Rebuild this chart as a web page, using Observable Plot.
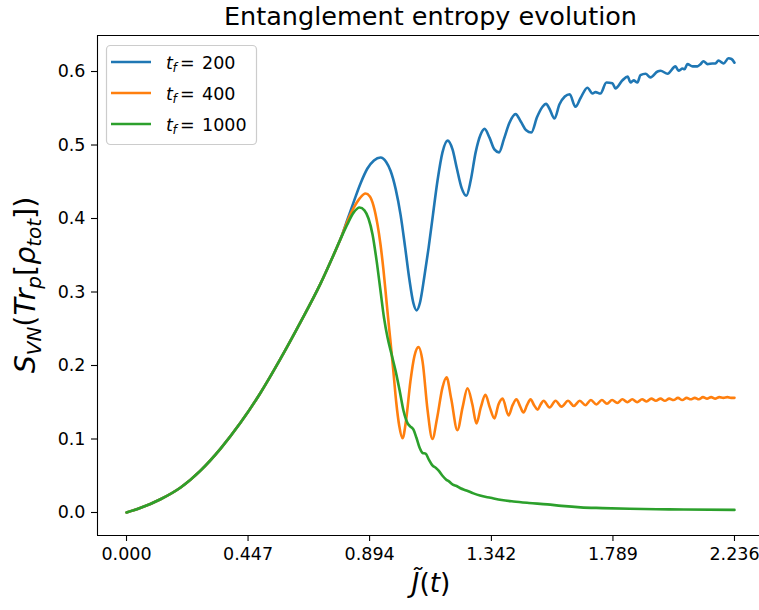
<!DOCTYPE html>
<html><head><meta charset="utf-8">
<script src="https://cdn.jsdelivr.net/npm/d3@7"></script>
<script src="https://cdn.jsdelivr.net/npm/@observablehq/plot@0.6"></script>
<style>body{margin:0;background:#fff;} #chart{position:relative;width:759px;height:610px;overflow:hidden}</style>
</head><body><div id="chart"></div>
<script>
const seriesLabels = ["200", "400", "1000"];
const seriesColors = ["#1f77b4", "#ff7f0e", "#2ca02c"];
const xTicks = [0, 0.447, 0.894, 1.342, 1.789, 2.236];
const yTicks = [0, 0.1, 0.2, 0.3, 0.4, 0.5, 0.6];

// shared rise (all three curves coincide)
const rise = [[0,0],[0.05,0.006],[0.125,0.018],[0.199,0.034],[0.272,0.057],[0.346,0.087],[0.419,0.122],[0.493,0.163],[0.566,0.209],[0.640,0.259],[0.713,0.311],[0.761,0.350],[0.787,0.372]];

const tail200 = [[0.812,0.398],[0.835,0.422],[0.861,0.448],[0.886,0.468],[0.910,0.479],[0.934,0.483],[0.955,0.477],[0.971,0.465],[0.990,0.440],[1.008,0.405],[1.025,0.360],[1.040,0.318],[1.055,0.285],[1.067,0.275],[1.079,0.285],[1.095,0.320],[1.111,0.360],[1.127,0.405],[1.144,0.452],[1.162,0.490],[1.181,0.506],[1.199,0.494],[1.215,0.468],[1.232,0.442],[1.250,0.431],[1.266,0.452],[1.284,0.490],[1.302,0.514],[1.317,0.522],[1.335,0.510],[1.353,0.494],[1.370,0.490],[1.388,0.508],[1.408,0.530],[1.431,0.542],[1.450,0.532],[1.470,0.520],[1.489,0.517],[1.510,0.538],[1.530,0.552],[1.543,0.556],[1.556,0.549],[1.574,0.536],[1.592,0.555],[1.612,0.566],[1.630,0.569],[1.651,0.552],[1.670,0.564],[1.695,0.578],[1.714,0.570],[1.725,0.572],[1.743,0.570],[1.765,0.585],[1.787,0.584],[1.798,0.577],[1.824,0.588],[1.843,0.593],[1.854,0.585],[1.865,0.588],[1.879,0.585],[1.890,0.595],[1.909,0.597],[1.927,0.592],[1.953,0.600],[1.964,0.601],[1.990,0.597],[2.019,0.607],[2.030,0.601],[2.045,0.604],[2.052,0.603],[2.063,0.610],[2.082,0.607],[2.100,0.607],[2.111,0.610],[2.122,0.614],[2.137,0.610],[2.155,0.611],[2.166,0.611],[2.177,0.615],[2.196,0.611],[2.214,0.618],[2.225,0.617],[2.236,0.612]];

const tail400 = [[0.812,0.396],[0.835,0.414],[0.857,0.427],[0.879,0.434],[0.895,0.430],[0.908,0.418],[0.923,0.392],[0.934,0.365],[0.945,0.330],[0.953,0.300],[0.962,0.265],[0.971,0.232],[0.982,0.190],[0.992,0.150],[1.003,0.118],[1.015,0.101],[1.028,0.125],[1.044,0.178],[1.059,0.213],[1.074,0.225],[1.089,0.205],[1.107,0.140],[1.125,0.100],[1.142,0.128],[1.162,0.170],[1.177,0.184],[1.194,0.155],[1.217,0.112],[1.236,0.143],[1.254,0.169],[1.272,0.147],[1.287,0.121],[1.303,0.143],[1.320,0.160],[1.336,0.143],[1.353,0.128],[1.368,0.147],[1.383,0.155],[1.405,0.132],[1.420,0.146],[1.434,0.154],[1.448,0.144],[1.460,0.136],[1.473,0.146],[1.486,0.154],[1.499,0.146],[1.512,0.140],[1.523,0.147],[1.534,0.152],[1.556,0.143],[1.578,0.152],[1.600,0.144],[1.624,0.152],[1.645,0.145],[1.667,0.152],[1.688,0.146],[1.708,0.153],[1.728,0.147],[1.748,0.153],[1.767,0.148],[1.786,0.153],[1.805,0.149],[1.824,0.154],[1.842,0.150],[1.860,0.154],[1.878,0.150],[1.896,0.154],[1.913,0.151],[1.930,0.155],[1.947,0.152],[1.964,0.155],[1.980,0.152],[1.996,0.155],[2.012,0.153],[2.028,0.156],[2.044,0.153],[2.060,0.156],[2.075,0.154],[2.090,0.156],[2.105,0.154],[2.120,0.157],[2.135,0.155],[2.150,0.157],[2.165,0.155],[2.180,0.157],[2.195,0.156],[2.210,0.157],[2.223,0.156],[2.236,0.156]];

const tail1000 = [[0.812,0.392],[0.835,0.408],[0.857,0.415],[0.875,0.411],[0.890,0.400],[0.905,0.378],[0.920,0.342],[0.934,0.302],[0.947,0.265],[0.960,0.238],[0.975,0.215],[0.990,0.192],[1.005,0.165],[1.019,0.138],[1.033,0.122],[1.044,0.117],[1.055,0.113],[1.066,0.102],[1.078,0.088],[1.089,0.081],[1.100,0.080],[1.112,0.072],[1.125,0.064],[1.137,0.061],[1.148,0.057],[1.162,0.050],[1.175,0.045],[1.187,0.042],[1.200,0.038],[1.214,0.036],[1.228,0.033],[1.250,0.030],[1.276,0.026],[1.300,0.023],[1.339,0.020],[1.380,0.017],[1.423,0.015],[1.480,0.013],[1.548,0.011],[1.600,0.009],[1.670,0.007],[1.750,0.006],[1.850,0.005],[1.950,0.0045],[2.050,0.004],[2.236,0.0035]];

const rows = [];
[tail200, tail400, tail1000].forEach((tail, i) => {
  rise.concat(tail).forEach(([x, y]) => rows.push({x, y, s: seriesLabels[i]}));
});

const xDomain = [-0.1067, 2.328];
const yDomain = [-0.0313, 0.649];

const plot = Plot.plot({
  width: 759, height: 610,
  marginLeft: 97, marginRight: 0, marginTop: 35, marginBottom: 75,
  x: {domain: xDomain},
  y: {domain: yDomain},
  color: {domain: seriesLabels, range: seriesColors},
  style: {fontFamily: "DejaVu Sans", fontSize: "17.5px", color: "black", background: "white"},
  marks: [
    Plot.line(rows, {x: "x", y: "y", z: "s", stroke: "s", strokeWidth: 2.6, curve: "monotone-x"}),
    Plot.ruleX([xDomain[0]], {stroke: "black", strokeWidth: 1.1}),
    Plot.ruleY([yDomain[0], yDomain[1]], {stroke: "black", strokeWidth: 1.1}),
    Plot.axisX({ticks: xTicks, tickFormat: d3.format(".3f"), tickSize: 6, tickPadding: 6, label: null, strokeWidth: 1.1}),
    Plot.axisY({ticks: yTicks, tickFormat: d3.format(".1f"), tickSize: 6, tickPadding: 6, label: null, strokeWidth: 1.1})
  ]
});
document.getElementById("chart").appendChild(plot);

const svg = d3.select(plot);
function mathText(g, parts, size) {
  parts.forEach(p => {
    const ts = g.append("tspan").text(p.t);
    ts.attr("font-style", p.it ? "italic" : "normal");
    if (p.sub) ts.attr("font-size", size * 0.7).attr("dy", size * 0.2);
    if (p.back) ts.attr("dy", -size * 0.2);
  });
}
function addText(x, y, str, size, italic) {
  return svg.append("text").attr("x", x).attr("y", y).attr("text-anchor", "start")
    .attr("font-family", "DejaVu Sans").attr("font-size", size)
    .attr("font-style", italic ? "italic" : "normal").attr("fill", "black").text(str);
}

// title
svg.append("text").attr("x", 430.5).attr("y", 25).attr("text-anchor", "middle")
  .attr("font-family", "DejaVu Sans").attr("font-size", 25.5).attr("fill", "black")
  .text("Entanglement entropy evolution");

// y label
const yl = svg.append("text").attr("transform", "translate(35,285) rotate(-90)")
  .attr("text-anchor", "middle").attr("font-family", "DejaVu Sans").attr("font-size", 28.5).attr("fill", "black");
mathText(yl, [
  {t: "S", it: true}, {t: "VN", it: true, sub: true}, {t: "(", back: true},
  {t: "Tr", it: true}, {t: "p", it: true, sub: true}, {t: "[", back: true},
  {t: "ρ", it: true}, {t: "tot", it: true, sub: true}, {t: "])", back: true}
], 28.5);

// x label
svg.append("text").attr("x", 431).attr("y", 592).attr("text-anchor", "middle")
  .attr("font-family", "DejaVu Sans").attr("font-size", 26.5).attr("fill", "black")
  .call(g => mathText(g, [{t: "J\u0303", it: true}, {t: "("}, {t: "t", it: true}, {t: ")"}], 26.5));

// legend
const lg = svg.append("g");
lg.append("rect").attr("x", 106.5).attr("y", 45.5).attr("width", 150).attr("height", 99).attr("rx", 4)
  .attr("fill", "white").attr("fill-opacity", 0.8).attr("stroke", "#cccccc").attr("stroke-width", 1.2);
seriesLabels.forEach((lab, i) => {
  const cy = 62 + i * 31;
  lg.append("line").attr("x1", 111).attr("x2", 151).attr("y1", cy).attr("y2", cy)
    .attr("stroke", seriesColors[i]).attr("stroke-width", 2.6);
  addText(166, cy + 6.5, "t", 17.5, true);
  addText(172.5, cy + 10, "f", 12.25, true);
  addText(180, cy + 6.5, "=", 17.5, false);
  addText(202, cy + 6.5, lab, 17.5, false);
});
</script>
</body></html>
